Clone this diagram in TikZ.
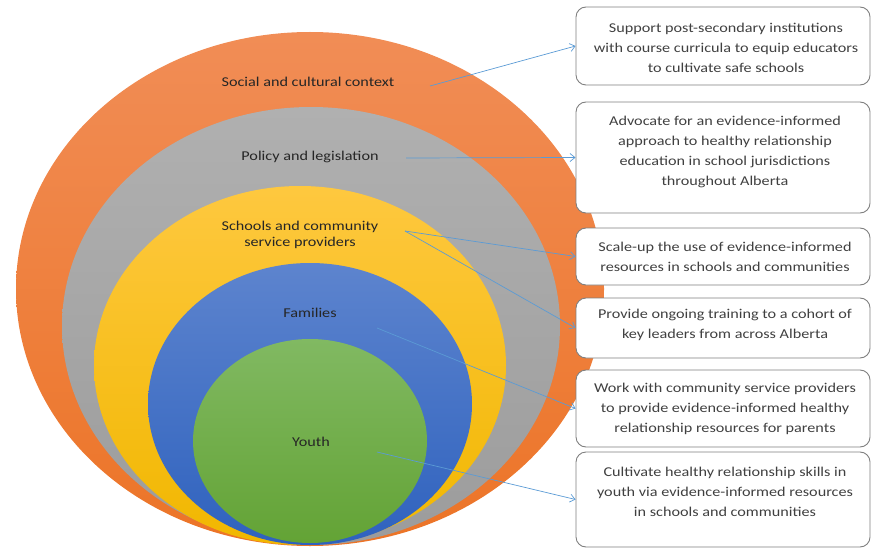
\documentclass[tikz,border=0pt]{standalone}
\usepackage{fontspec}
\setmainfont[FakeStretch=1.2]{Carlito}
\usetikzlibrary{arrows.meta}

\definecolor{orangeTop}{HTML}{F18D56}
\definecolor{orangeBot}{HTML}{EC7427}
\definecolor{grayTop}{HTML}{B0B0B0}
\definecolor{grayBot}{HTML}{9C9C9C}
\definecolor{yellowTop}{HTML}{FEC83F}
\definecolor{yellowBot}{HTML}{F1B700}
\definecolor{blueTop}{HTML}{5D84CE}
\definecolor{blueBot}{HTML}{2F62BE}
\definecolor{greenTop}{HTML}{81B962}
\definecolor{greenBot}{HTML}{63A335}
\definecolor{labelInk}{HTML}{262626}
\definecolor{boxInk}{HTML}{404040}
\definecolor{boxLine}{HTML}{7F7F7F}
\definecolor{linkBlue}{HTML}{5B9BD5}

\begin{document}
\begin{tikzpicture}[x=1pt,y=-1pt,
  lbl/.style={font=\fontsize{13.5}{16}\selectfont, text=labelInk, align=center, inner sep=0pt},
  box/.style={draw=boxLine, line width=0.9pt, fill=white, rounded corners=10pt,
              minimum width=294pt, inner sep=0pt},
  boxtext/.style={font=\fontsize{13.5}{20}\selectfont, text=boxInk, align=center, inner sep=0pt},
  link/.style={draw=linkBlue, line width=0.7pt, -{Straight Barb[length=5pt, width=8pt]}}]

\useasboundingbox (0,0) rectangle (872,548);

% nested spheres of influence
\shade[top color=orangeTop, bottom color=orangeBot] (310,289) ellipse [x radius=294, y radius=257];
\shade[top color=grayTop, bottom color=grayBot] (311,326) ellipse [x radius=249, y radius=219];
\shade[top color=yellowTop, bottom color=yellowBot] (300,365.5) ellipse [x radius=206, y radius=179.5];
\shade[top color=blueTop, bottom color=blueBot] (310,404) ellipse [x radius=162, y radius=141];
\shade[top color=greenTop, bottom color=greenBot] (310,441) ellipse [x radius=117, y radius=102];

% level labels
\node[lbl] (social) at (308,82) {Social and cultural context};
\node[lbl] (policy) at (310,157) {Policy and legislation};
\node[lbl] (schools) at (300,235) {Schools and community\\service providers};
\node[lbl] (families) at (310,313) {Families};
\node[lbl] (youth) at (311,442) {Youth};

% action boxes
\node[box, minimum height=78pt] (b1) at (723,46) {};
\node[box, minimum height=111pt] (b2) at (723,157.5) {};
\node[box, minimum height=57pt] (b3) at (723,256.5) {};
\node[box, minimum height=60pt] (b4) at (723,328) {};
\node[box, minimum height=77pt] (b5) at (723,408.5) {};
\node[box, minimum height=95pt] (b6) at (723,499.5) {};

\node[boxtext] (t1) at (726,48) {Support post-secondary institutions\\with course curricula to equip educators\\to cultivate safe schools};
\node[boxtext] (t2) at (725,152) {Advocate for an evidence-informed\\approach to healthy relationship\\education in school jurisdictions\\throughout Alberta};
\node[boxtext] (t3) at (725,257) {Scale-up the use of evidence-informed\\resources in schools and communities};
\node[boxtext] (t4) at (725,325) {Provide ongoing training to a cohort of\\key leaders from across Alberta};
\node[boxtext] (t5) at (725,409) {Work with community service providers\\to provide evidence-informed healthy\\relationship resources for parents};
\node[boxtext] (t6) at (725,492) {Cultivate healthy relationship skills in\\youth via evidence-informed resources\\in schools and communities};

% connector start points beside the labels
\coordinate (s1) at (430,86);
\coordinate (s2) at (406,158);
\coordinate (s3) at (405,231);
\coordinate (s5) at (377,328);
\coordinate (s6) at (377,452);

\draw[link] (s1) -- (b1.west);
\draw[link] (s2) -- (b2.west);
\draw[link] (s3) -- (b3.west);
\draw[link] (s3) -- (b4.west);
\draw[link] (s5) -- (b5.west);
\draw[link] (s6) -- (b6.west);
\end{tikzpicture}
\end{document}
